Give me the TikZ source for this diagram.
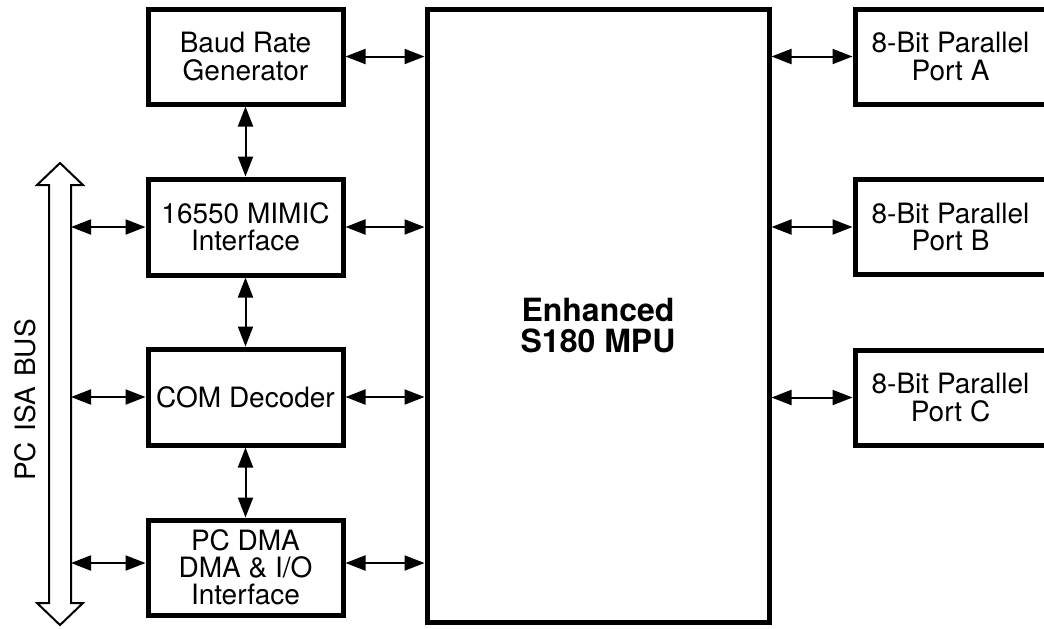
\documentclass[tikz,border=0pt]{standalone}
\usepackage{fontspec}
\setmainfont{TeX Gyre Heros}
\usetikzlibrary{arrows.meta,positioning}

\begin{document}
\begin{tikzpicture}[x=0.5pt, y=-0.5pt,
		BlockStyle/.style={draw, line width=2.5pt, align=center, inner sep=0pt, font=\fontsize{14}{13.6}\selectfont},
		LinkStyle/.style={{Triangle[length=10pt,width=7.5pt]}-{Triangle[length=10pt,width=7.5pt]}, line width=1pt}]
		\clip (0,0) rectangle (1044,628);
		% left column
		\node[BlockStyle, minimum width=97.5pt, minimum height=47.5pt] (baud) at (245.5,56.5) {Baud Rate\\Generator};
		\node[BlockStyle, minimum width=97.5pt, minimum height=48pt] (mimic) at (245.5,227) {16550 MIMIC\\Interface};
		\node[BlockStyle, minimum width=97.5pt, minimum height=48pt] (comdec) at (245.5,397) {COM Decoder};
		\node[BlockStyle, minimum width=97.5pt, minimum height=47.5pt] (dma) at (245.5,567.5) {PC DMA\\DMA \& I/O\\Interface};
		% processor
		\node[BlockStyle, minimum width=171pt, minimum height=306.5pt] (mpu) at (598,315.5) {};
		\node[align=center, font=\bfseries\fontsize{16}{15.5}\selectfont] (mpulabel) at (598,326) {Enhanced\\S180 MPU};
		% right column
		\node[BlockStyle, minimum width=95.5pt, minimum height=47.5pt] (portA) at (950.5,56.5) {8-Bit Parallel\\Port A};
		\node[BlockStyle, minimum width=95.5pt, minimum height=47.5pt] (portB) at (950.5,227) {8-Bit Parallel\\Port B};
		\node[BlockStyle, minimum width=95.5pt, minimum height=47.5pt] (portC) at (950.5,397.5) {8-Bit Parallel\\Port C};
		% ISA bus
		\draw[line width=1pt, fill=white] (49,603) -- (49,185) -- (37,185) -- (60,163) -- (83,185) -- (71,185)
			-- (71,603) -- (83,603) -- (60,625) -- (37,603) -- cycle;
		\coordinate (busR) at (71,0);
		\node[rotate=90, font=\fontsize{14}{14}\selectfont] (buslabel) at (25,400) {PC\hspace{1.3pt} ISA\hspace{1.3pt} BUS};
		\coordinate (dmaW) at ([yshift=2.25pt]dma.west);
		\coordinate (dmaE) at ([yshift=2.25pt]dma.east);
		% links
		\draw[LinkStyle] (busR |- mimic.west) -- (mimic.west);
		\draw[LinkStyle] (busR |- comdec.west) -- (comdec.west);
		\draw[LinkStyle] (busR |- dmaW) -- (dmaW);
		\draw[LinkStyle] (baud.south) -- (mimic.north);
		\draw[LinkStyle] (mimic.south) -- (comdec.north);
		\draw[LinkStyle] (comdec.south) -- (dma.north);
		\draw[LinkStyle] (baud.east) -- (baud.east -| mpu.west);
		\draw[LinkStyle] (mimic.east) -- (mimic.east -| mpu.west);
		\draw[LinkStyle] (comdec.east) -- (comdec.east -| mpu.west);
		\draw[LinkStyle] (dmaE) -- (dmaE -| mpu.west);
		\draw[LinkStyle] (mpu.east |- portA.west) -- (portA.west);
		\draw[LinkStyle] (mpu.east |- portB.west) -- (portB.west);
		\draw[LinkStyle] (mpu.east |- portC.west) -- (portC.west);
	\end{tikzpicture}
\end{document}
